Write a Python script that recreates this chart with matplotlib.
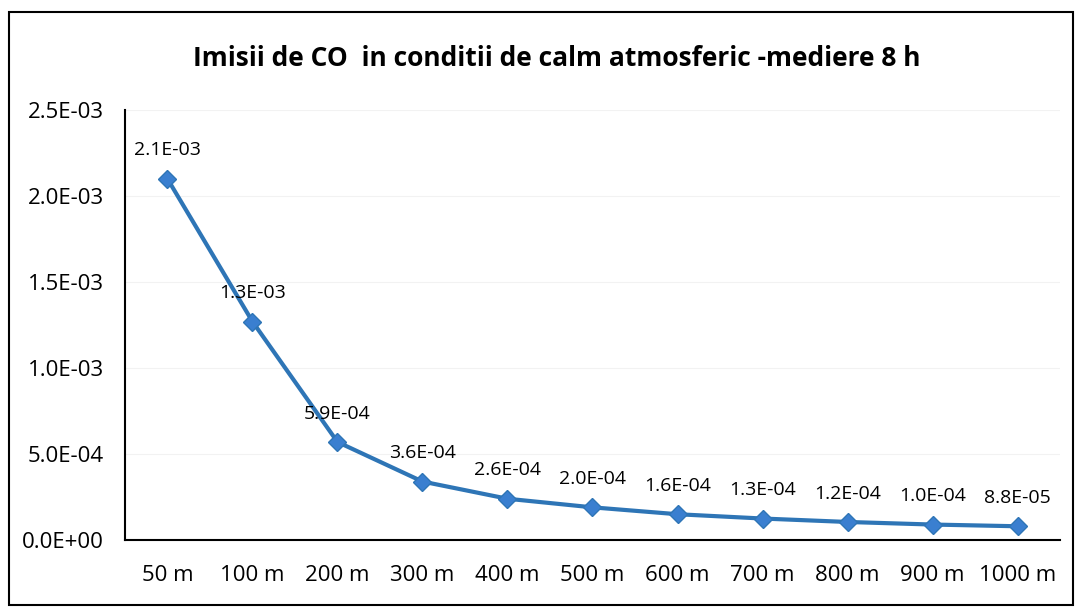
import matplotlib.pyplot as plt
from matplotlib.patches import Rectangle

# data
distances = ['50 m', '100 m', '200 m', '300 m', '400 m', '500 m',
             '600 m', '700 m', '800 m', '900 m', '1000 m']
co_values = [2.1e-3, 1.27e-3, 5.7e-4, 3.4e-4, 2.4e-4, 1.9e-4,
             1.5e-4, 1.25e-4, 1.05e-4, 9.0e-5, 8.0e-5]
label_texts = ['2.1E-03', '1.3E-03', '5.9E-04', '3.6E-04', '2.6E-04', '2.0E-04',
               '1.6E-04', '1.3E-04', '1.2E-04', '1.0E-04', '8.8E-05']
y_ticks = [0, 5e-4, 1e-3, 1.5e-3, 2e-3, 2.5e-3]
y_tick_labels = ['0.0E+00', '5.0E-04', '1.0E-03', '1.5E-03', '2.0E-03', '2.5E-03']

plt.rcParams['font.family'] = ['Open Sans', 'DejaVu Sans']

fig = plt.figure(figsize=(10.81, 6.12), dpi=100)
ax = fig.add_axes([0.1156, 0.1176, 0.865, 0.7026])

x = range(len(distances))
ax.plot(x, co_values, color='#2E75B6', linewidth=3, marker='D', markersize=9,
        markerfacecolor='#3A7FD0', markeredgecolor='#2E75B6')

for i, (v, t) in enumerate(zip(co_values, label_texts)):
    ax.annotate(t, (i, v), xytext=(0, 14), textcoords='offset points',
                ha='center', va='bottom', fontsize=14)

ax.set_xlim(-0.5, len(distances) - 0.5)
ax.set_ylim(0, 2.5e-3)
ax.set_xticks(list(x))
ax.set_xticklabels(distances, fontsize=16)
ax.set_yticks(y_ticks)
ax.set_yticklabels(y_tick_labels, fontsize=16)
ax.tick_params(axis='x', length=0, pad=18)
ax.tick_params(axis='y', length=0, pad=15)
ax.yaxis.grid(True, color='#f2f2f2', linewidth=0.8)
ax.set_axisbelow(True)

for side in ['top', 'right']:
    ax.spines[side].set_visible(False)
ax.spines['left'].set_linewidth(1.5)
ax.spines['bottom'].set_linewidth(1.5)

fig.text(0.515, 0.905, 'Imisii de CO  in conditii de calm atmosferic -mediere 8 h',
         ha='center', va='center', fontsize=19, fontweight='bold')

# outer chart border
fig.patches.append(Rectangle((0.008, 0.012), 0.985, 0.968, transform=fig.transFigure,
                             fill=False, edgecolor='black', linewidth=1.5))

fig.savefig('out.png', dpi=100)
